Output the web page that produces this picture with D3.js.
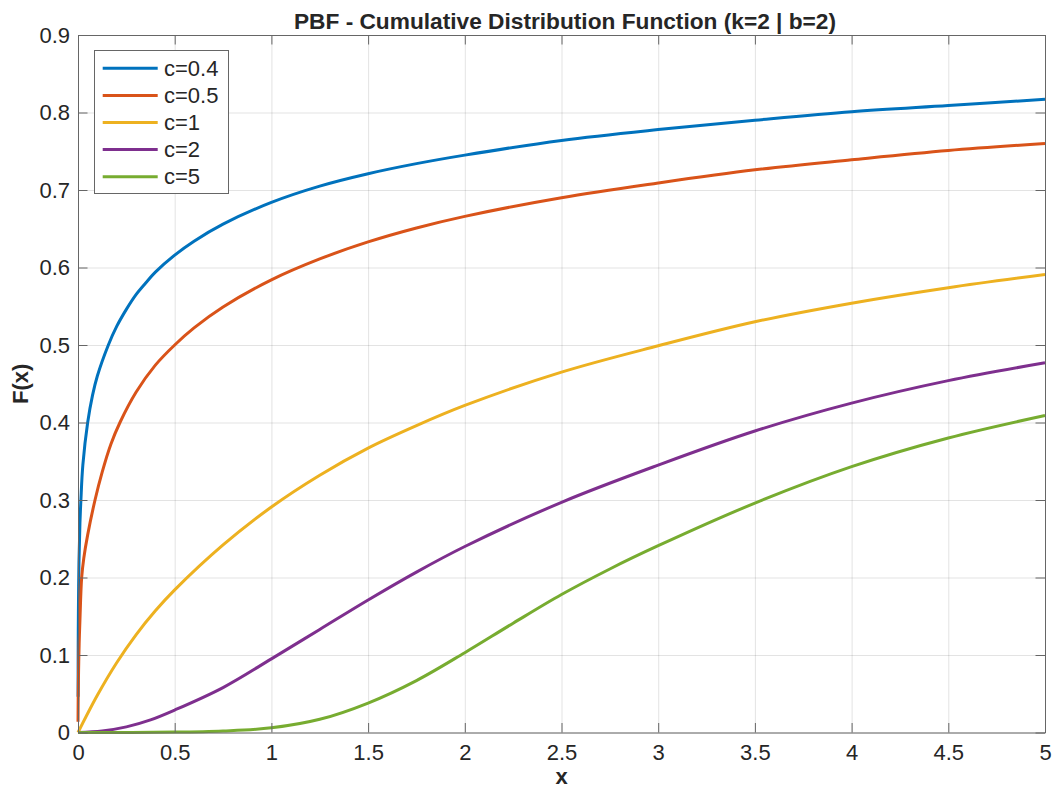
<!DOCTYPE html>
<html>
<head>
<meta charset="utf-8">
<script src="https://cdn.jsdelivr.net/npm/d3@7"></script>
<style>
  body { margin: 0; background: #fff; }
  text { font-family: "Liberation Sans", Arial, sans-serif; fill: #262626; }
</style>
</head>
<body>
<div id="chart"></div>
<script>
// values
const seriesNames = ["c=0.4", "c=0.5", "c=1", "c=2", "c=5"];
const colors = ["#0072BD", "#D95319", "#EDB120", "#7E2F8E", "#77AC30"];

const xC04 = [0.0005, 0.001, 0.002, 0.005, 0.01, 0.015, 0.025, 0.05, 0.075, 0.1, 0.157, 0.2, 0.25, 0.3, 0.35, 0.4, 0.5, 0.6, 0.75, 1, 1.25, 1.5, 1.75, 2, 2.5, 3, 3.5, 4, 4.5, 5];
const yC04 = [0.046, 0.11, 0.154, 0.22, 0.27, 0.30, 0.345, 0.40, 0.435, 0.46, 0.50, 0.524, 0.546, 0.565, 0.580, 0.594, 0.616, 0.634, 0.656, 0.684, 0.705, 0.721, 0.734, 0.745, 0.764, 0.778, 0.790, 0.801, 0.809, 0.817];

const xC05 = [0.0002, 0.001, 0.003, 0.006, 0.01, 0.019, 0.03, 0.05, 0.088, 0.125, 0.17, 0.217, 0.3, 0.4, 0.5, 0.6, 0.75, 1, 1.25, 1.5, 1.75, 2, 2.5, 3, 3.5, 4, 4.5, 5];
const yC05 = [0.014, 0.045, 0.08, 0.115, 0.145, 0.20, 0.225, 0.255, 0.30, 0.336, 0.372, 0.40, 0.439, 0.474, 0.50, 0.522, 0.549, 0.584, 0.611, 0.633, 0.651, 0.666, 0.690, 0.709, 0.726, 0.739, 0.751, 0.760];

const xC1 = [0, 0.1, 0.2, 0.3, 0.4, 0.5, 0.75, 1, 1.25, 1.5, 1.75, 2, 2.5, 3, 3.5, 4, 4.5, 5];
const yC1 = [0, 0.048, 0.090, 0.126, 0.157, 0.184, 0.242, 0.291, 0.332, 0.367, 0.396, 0.422, 0.465, 0.499, 0.530, 0.554, 0.574, 0.591];

const xC2 = [0, 0.125, 0.25, 0.375, 0.5, 0.75, 1, 1.25, 1.5, 1.75, 2, 2.5, 3, 3.5, 4, 4.5, 5];
const yC2 = [0, 0.002, 0.0073, 0.0163, 0.029, 0.058, 0.095, 0.133, 0.171, 0.207, 0.240, 0.297, 0.345, 0.389, 0.425, 0.454, 0.477];

const xC5 = [0, 0.5, 0.75, 1, 1.25, 1.5, 1.75, 2, 2.25, 2.5, 2.75, 3, 3.5, 4, 4.5, 5];
const yC5 = [0, 0.0005, 0.002, 0.006, 0.017, 0.038, 0.067, 0.103, 0.141, 0.178, 0.211, 0.241, 0.296, 0.343, 0.380, 0.409];

const xTicks = [0, 0.5, 1, 1.5, 2, 2.5, 3, 3.5, 4, 4.5, 5];
const xTickLabels = ["0", "0.5", "1", "1.5", "2", "2.5", "3", "3.5", "4", "4.5", "5"];
const yTicks = [0, 0.1, 0.2, 0.3, 0.4, 0.5, 0.6, 0.7, 0.8, 0.9];
const yTickLabels = ["0", "0.1", "0.2", "0.3", "0.4", "0.5", "0.6", "0.7", "0.8", "0.9"];

const xs = [xC04, xC05, xC1, xC2, xC5];
const ys = [yC04, yC05, yC1, yC2, yC5];

const width = 1053, height = 789;
const plotLeft = 78, plotRight = 1045, plotTop = 35, plotBottom = 732.5;

const x = d3.scaleLinear().domain([0, 5]).range([plotLeft, plotRight]);
const y = d3.scaleLinear().domain([0, 0.9]).range([plotBottom, plotTop]);

const svg = d3.select("#chart").append("svg")
  .attr("width", width)
  .attr("height", height);

// grid
svg.append("g")
  .attr("transform", `translate(0,${plotBottom})`)
  .call(d3.axisBottom(x).tickValues(xTicks).tickSize(-(plotBottom - plotTop)).tickFormat(""))
  .call(g => g.select(".domain").remove())
  .selectAll("line").attr("stroke", "#262626").attr("stroke-opacity", 0.13);

svg.append("g")
  .attr("transform", `translate(${plotLeft},0)`)
  .call(d3.axisLeft(y).tickValues(yTicks).tickSize(-(plotRight - plotLeft)).tickFormat(""))
  .call(g => g.select(".domain").remove())
  .selectAll("line").attr("stroke", "#262626").attr("stroke-opacity", 0.13);

// curves
const line = d3.line()
  .x(d => x(d[0]))
  .y(d => y(d[1]))
  .curve(d3.curveCatmullRom.alpha(0.5));

const plot = svg.append("g");
xs.forEach((xv, i) => {
  plot.append("path")
    .datum(xv.map((v, j) => [v, ys[i][j]]))
    .attr("fill", "none")
    .attr("stroke", colors[i])
    .attr("stroke-width", 3)
    .attr("stroke-linejoin", "round")
    .attr("d", line);
});

// axes, ticks inward on all four sides
const axisColor = "#666";
function styleAxis(g) {
  g.select(".domain").attr("stroke", axisColor);
  g.selectAll(".tick line").attr("stroke", axisColor);
  g.selectAll("text").attr("font-size", 22).attr("fill", "#262626")
    .attr("font-family", "'Liberation Sans', Arial, sans-serif");
}

svg.append("g")
  .attr("transform", `translate(0,${plotBottom})`)
  .call(d3.axisBottom(x).tickValues(xTicks).tickFormat((d, i) => xTickLabels[i])
    .tickSizeInner(-9.5).tickSizeOuter(0).tickPadding(12))
  .call(styleAxis);

svg.append("g")
  .attr("transform", `translate(0,${plotTop})`)
  .call(d3.axisTop(x).tickValues(xTicks).tickFormat("")
    .tickSizeInner(-9.5).tickSizeOuter(0))
  .call(styleAxis);

svg.append("g")
  .attr("transform", `translate(${plotLeft},0)`)
  .call(d3.axisLeft(y).tickValues(yTicks).tickFormat((d, i) => yTickLabels[i])
    .tickSizeInner(-9.5).tickSizeOuter(0).tickPadding(8))
  .call(styleAxis);

svg.append("g")
  .attr("transform", `translate(${plotRight},0)`)
  .call(d3.axisRight(y).tickValues(yTicks).tickFormat("")
    .tickSizeInner(-9.5).tickSizeOuter(0))
  .call(styleAxis);

// title and labels
svg.append("text")
  .attr("x", 565)
  .attr("y", 29)
  .attr("text-anchor", "middle")
  .attr("font-size", 22.7)
  .attr("font-weight", "bold")
  .attr("fill", "#000")
  .text("PBF - Cumulative Distribution Function (k=2 | b=2)");

svg.append("text")
  .attr("x", (plotLeft + plotRight) / 2)
  .attr("y", 784)
  .attr("text-anchor", "middle")
  .attr("font-size", 22)
  .attr("font-weight", "bold")
  .text("x");

svg.append("text")
  .attr("transform", `translate(28,${(plotTop + plotBottom) / 2}) rotate(-90)`)
  .attr("text-anchor", "middle")
  .attr("font-size", 22)
  .attr("font-weight", "bold")
  .text("F(x)");

// legend
const legend = svg.append("g");
legend.append("rect")
  .attr("x", 94.5)
  .attr("y", 50.5)
  .attr("width", 134)
  .attr("height", 143)
  .attr("fill", "#fff")
  .attr("stroke", axisColor);

seriesNames.forEach((name, i) => {
  const cy = 68.3 + i * 27.1;
  legend.append("line")
    .attr("x1", 102.7).attr("x2", 157.7)
    .attr("y1", cy).attr("y2", cy)
    .attr("stroke", colors[i])
    .attr("stroke-width", 3);
  legend.append("text")
    .attr("x", 164)
    .attr("y", cy)
    .attr("dy", "0.35em")
    .attr("font-size", 22)
    .text(name);
});
</script>
</body>
</html>
